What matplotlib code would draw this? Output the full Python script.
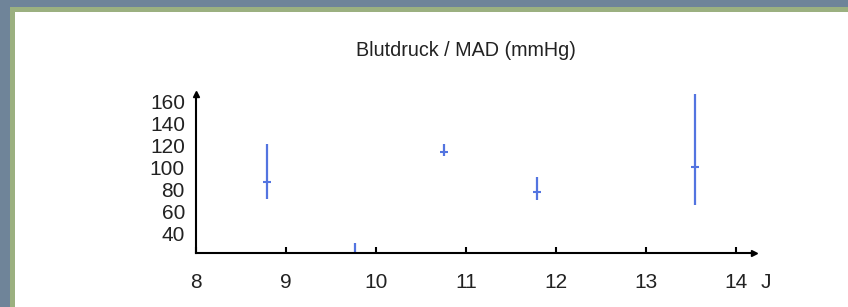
import matplotlib
matplotlib.use('Agg')
import matplotlib.pyplot as plt
from matplotlib.patches import Rectangle

plt.rcParams['font.family'] = ['Liberation Sans', 'DejaVu Sans']

# Werte (Alter in Jahren, MAD in mmHg)
alter = [8.79, 9.77, 10.76, 11.79, 13.54]
mad_mittel = [87, 15, 114.5, 77.5, 100]
mad_oben = [121, 31, 121, 91, 169]
mad_unten = [71, 0, 110.5, 70.5, 66]

x_ticks = [8, 9, 10, 11, 12, 13, 14]
y_ticks = [40, 60, 80, 100, 120, 140, 160]

err_low = [m - u for m, u in zip(mad_mittel, mad_unten)]
err_high = [o - m for m, o in zip(mad_mittel, mad_oben)]

fig = plt.figure(figsize=(8.48, 3.07), dpi=100)
fig.patch.set_facecolor('white')

# Rahmen (blaugrau + gruener Streifen)
fig.patches.append(Rectangle((0, 0), 1, 1, transform=fig.transFigure,
                             facecolor='#6f8499', edgecolor='none', zorder=-3))
fig.patches.append(Rectangle((10/848, 0), 1, 1 - 7/307, transform=fig.transFigure,
                             facecolor='#9bb080', edgecolor='none', zorder=-2))
fig.patches.append(Rectangle((15/848, 0), 1, 1 - 12/307, transform=fig.transFigure,
                             facecolor='white', edgecolor='none', zorder=-1))

ax = fig.add_axes([196/848, 54/307, 558/848, 159/307])
ax.set_facecolor('none')

ax.errorbar(alter, mad_mittel, yerr=[err_low, err_high], fmt='_', ms=6, mew=1.5,
            color='#5374e0', ecolor='#5374e0', elinewidth=1.6, capsize=0)

ax.set_xlim(8, 14.2)
ax.set_ylim(22, 167)
ax.set_xticks(x_ticks)
ax.set_yticks(y_ticks)
ax.set_xticklabels([str(t) for t in x_ticks])
ax.set_yticklabels([str(t) for t in y_ticks])

for s in ['top', 'right']:
    ax.spines[s].set_visible(False)
ax.spines['left'].set_linewidth(1.5)
ax.spines['bottom'].set_linewidth(1.5)

ax.tick_params(axis='x', direction='in', length=4, width=1.5, pad=14.5, labelsize=15,
               labelcolor='#222222')
ax.tick_params(axis='y', length=0, pad=8, labelsize=15, labelcolor='#222222')

# Pfeilspitzen an den Achsen
ax.plot([1], [0], marker='>', color='black', ms=5, transform=ax.transAxes, clip_on=False)
ax.plot([0], [1], marker='^', color='black', ms=5, transform=ax.transAxes, clip_on=False)

fig.text(766/848, 1 - 282/307, 'J', fontsize=15, ha='center', va='center', color='#222222')
fig.text(466/848, 1 - 50/307, 'Blutdruck / MAD (mmHg)', fontsize=14.2, ha='center',
         va='center', color='#222222')

fig.savefig('out.png', dpi=100)
